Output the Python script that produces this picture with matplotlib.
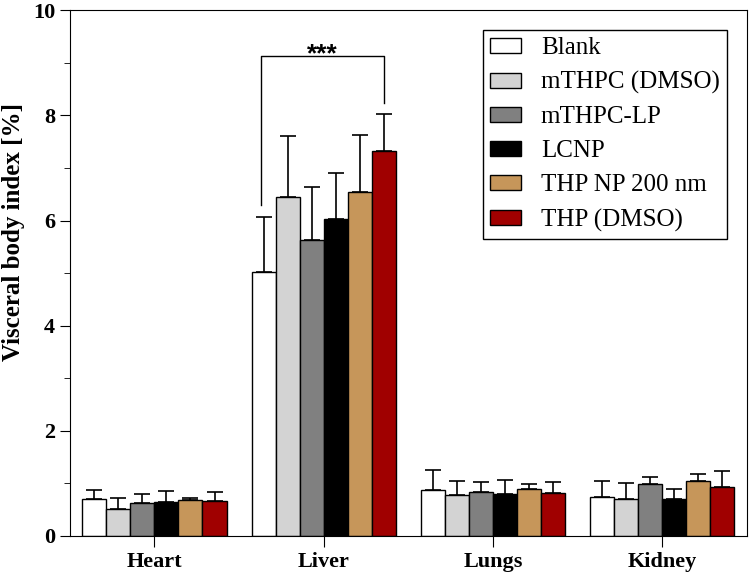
import numpy as np
import matplotlib.pyplot as plt
from matplotlib.ticker import MultipleLocator

plt.rcParams['font.family'] = ['Liberation Serif', 'DejaVu Serif']

organs = ['Heart', 'Liver', 'Lungs', 'Kidney']
groups = ['Blank', 'mTHPC (DMSO)', 'mTHPC-LP', 'LCNP', 'THP NP 200 nm', 'THP (DMSO)']
colors = ['white', '#d3d3d3', '#808080', 'black', '#c6965a', '#a00000']

# mean values per group, organ order: Heart, Liver, Lungs, Kidney
blank = [0.70, 5.02, 0.87, 0.74]
mthpc_dmso = [0.52, 6.44, 0.77, 0.70]
mthpc_lp = [0.63, 5.63, 0.84, 0.99]
lcnp = [0.65, 6.03, 0.80, 0.71]
thp_np = [0.68, 6.54, 0.89, 1.04]
thp_dmso = [0.67, 7.33, 0.81, 0.93]

# upper error (SD)
blank_err = [0.18, 1.05, 0.38, 0.30]
mthpc_dmso_err = [0.20, 1.16, 0.27, 0.31]
mthpc_lp_err = [0.16, 1.01, 0.19, 0.13]
lcnp_err = [0.20, 0.87, 0.26, 0.18]
thp_np_err = [0.04, 1.08, 0.10, 0.14]
thp_dmso_err = [0.17, 0.69, 0.21, 0.31]

means = [blank, mthpc_dmso, mthpc_lp, lcnp, thp_np, thp_dmso]
errs = [blank_err, mthpc_dmso_err, mthpc_lp_err, lcnp_err, thp_np_err, thp_dmso_err]

fig, ax = plt.subplots(figsize=(7.5, 5.75), dpi=100)
fig.subplots_adjust(left=0.093, right=0.996, top=0.982, bottom=0.068)

x = np.arange(len(organs))
w = 0.142
for i, (m, e, c, g) in enumerate(zip(means, errs, colors, groups)):
    pos = x + (i - 2.5) * w
    ax.bar(pos, m, w, color=c, edgecolor='black', linewidth=1.0, label=g, zorder=2)
    ax.errorbar(pos, m, yerr=[np.zeros(len(m)), e], fmt='none', ecolor='black',
                elinewidth=1.2, capsize=6, capthick=1.2, zorder=1)

# significance bracket on liver: Blank vs THP (DMSO)
xl = x[1] - 2.5 * w - 0.015
xr = x[1] + 2.5 * w
ax.plot([xl, xl, xr, xr], [6.3, 9.13, 9.13, 8.23], color='black', lw=1.0)
ax.text((xl + xr) / 2, 8.93, '***', ha='center', va='bottom', fontsize=19,
        family='Liberation Sans', fontweight='bold')

ax.set_xlim(-0.5, 3.5)
ax.set_ylim(0, 10)
ax.set_xticks(x)
ax.set_xticklabels(organs, fontsize=16, fontweight='bold')
ax.yaxis.set_major_locator(MultipleLocator(2))
ax.yaxis.set_minor_locator(MultipleLocator(1))
ax.tick_params(axis='y', which='major', direction='out', length=7, labelsize=16)
ax.tick_params(axis='y', which='minor', direction='out', length=4)
ax.tick_params(axis='x', direction='out', length=8)
for lab in ax.get_yticklabels():
    lab.set_fontweight('bold')
ax.set_ylabel('Visceral body index [%]', fontsize=18, fontweight='bold')
ax.yaxis.set_label_coords(-0.066, 0.578)

leg = ax.legend(loc='upper right', bbox_to_anchor=(0.970, 0.962), fontsize=18,
                frameon=True, fancybox=False, edgecolor='black', framealpha=1,
                handlelength=1.25, handleheight=0.56, handletextpad=0.8,
                labelspacing=0.48, borderpad=0.28, borderaxespad=0)
leg.get_frame().set_linewidth(1.0)

plt.savefig('out.png', dpi=100)
